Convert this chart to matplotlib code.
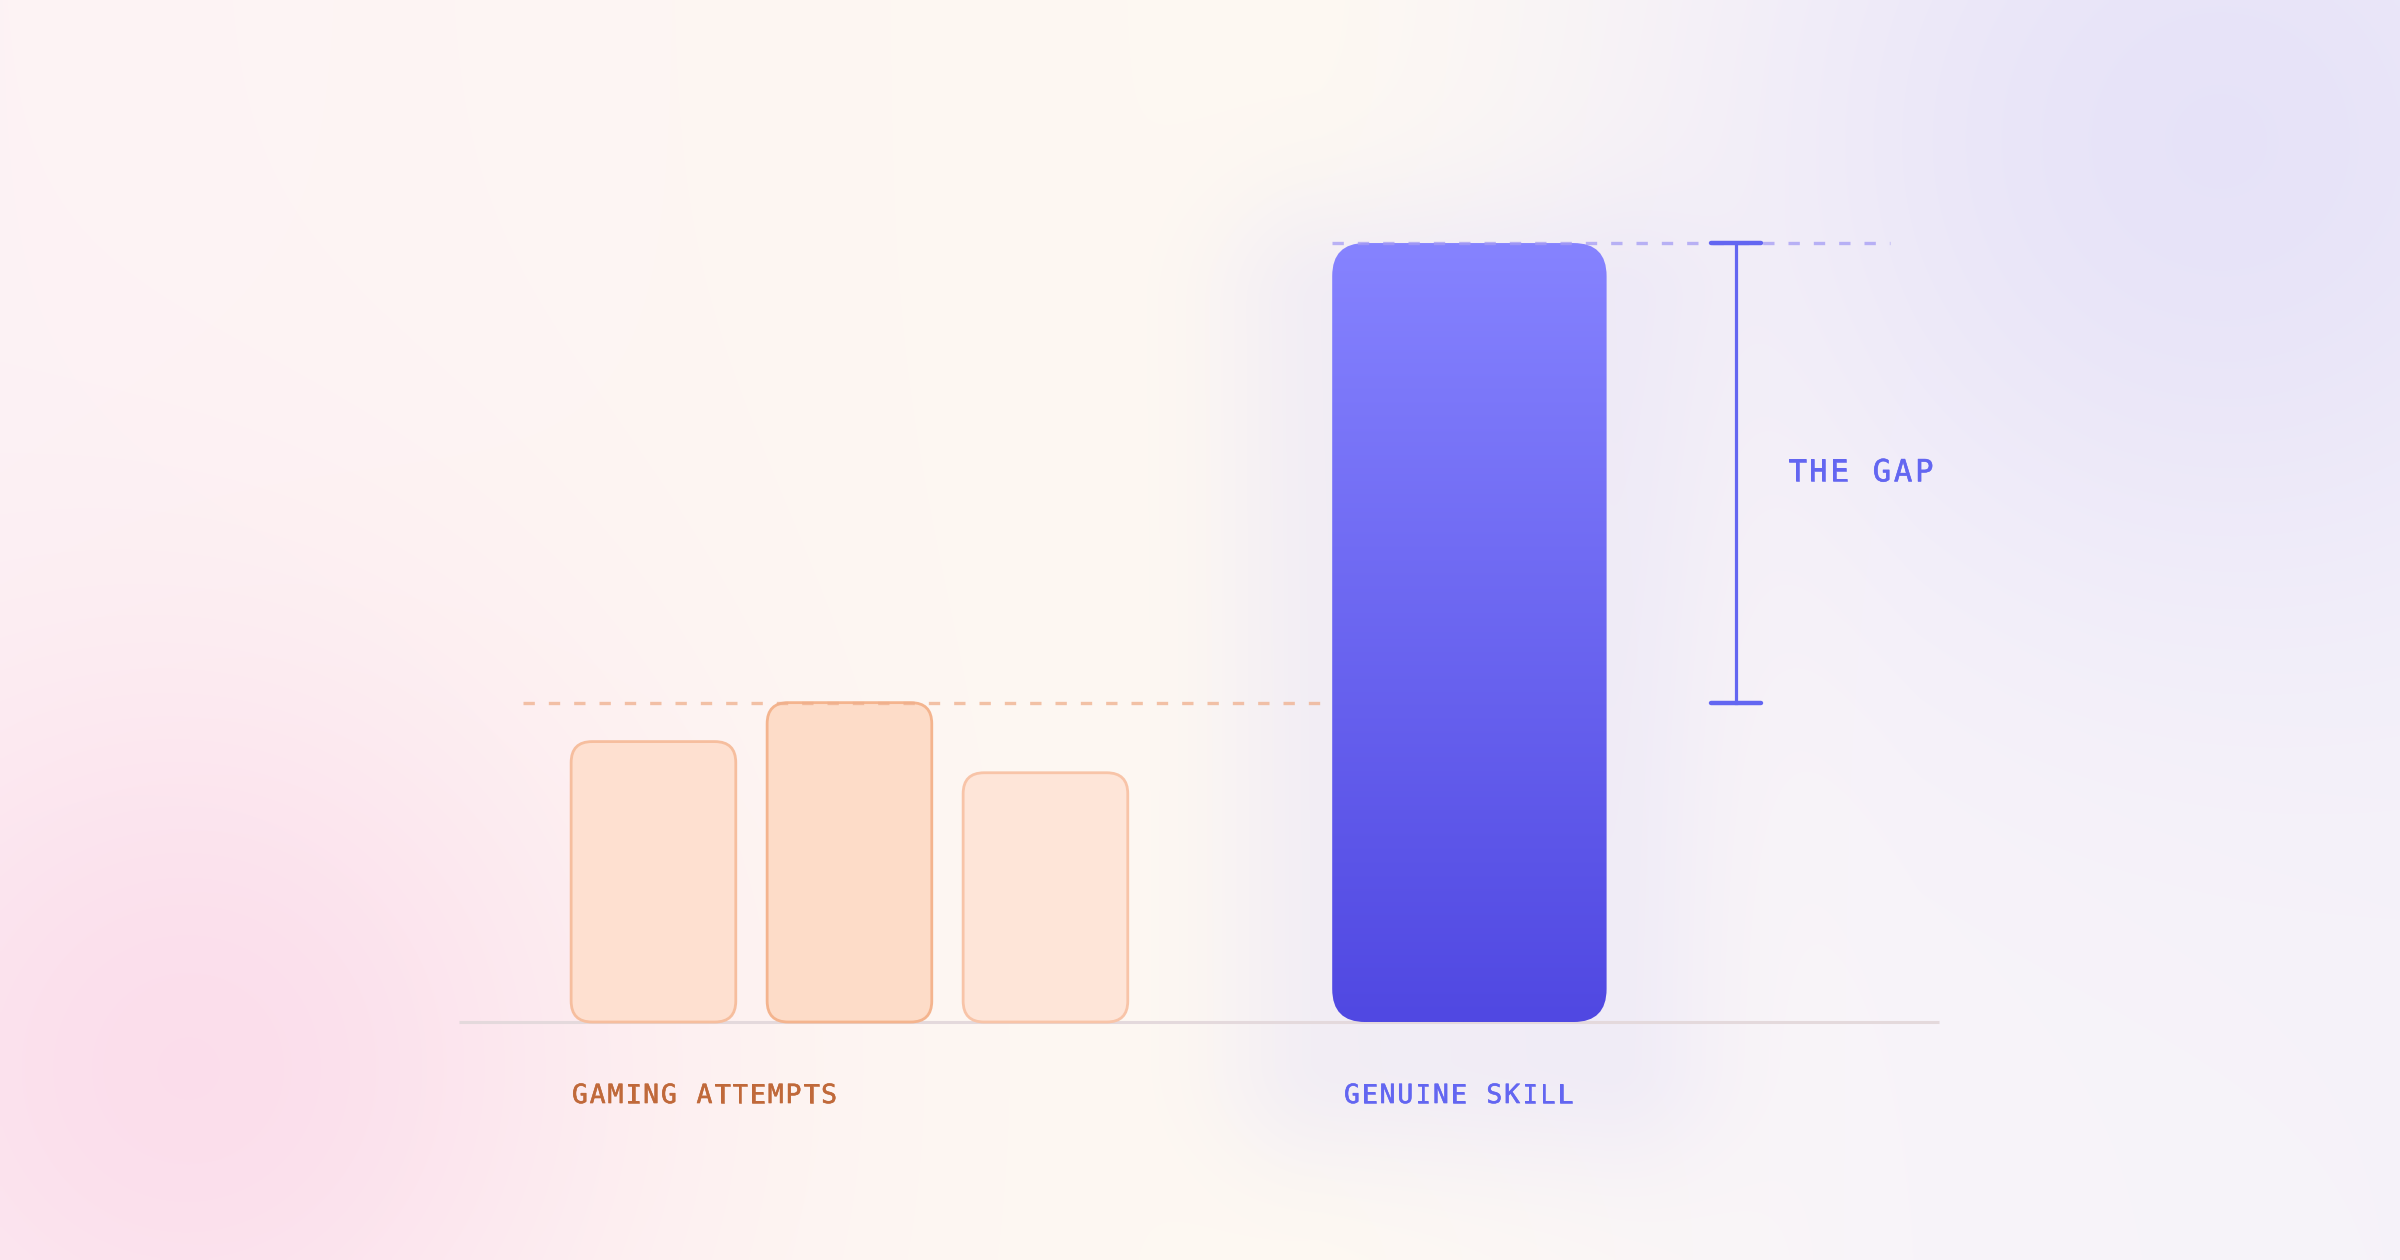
import matplotlib
matplotlib.use("Agg")
import matplotlib.pyplot as plt
import numpy as np
from matplotlib.patches import FancyBboxPatch
import matplotlib.patheffects as pe

# data
gaming_labels = ["attempt 1", "attempt 2", "attempt 3"]
gaming_values = [36, 41, 32]
skill_value = 100
group_labels = ["GAMING ATTEMPTS", "GENUINE SKILL"]
gap_label = "THE GAP"

# layout
W, H, DPI = 24, 12.6, 100
xlim = (-3.334, 8.911)
ylim = (-30.55, 131.2)
gaming_x = [0, 1, 2]
gaming_w = 0.84
skill_x = 4.163
skill_w = 1.40
gap_x = 5.523

gaming_fill = ["#FEE0D0", "#FDDCC8", "#FEE5D8"]
gaming_edge = ["#F6BE9E", "#F4B48E", "#F8C4A8"]
orange_txt = "#C0693A"
purple = "#6366F1"

fig = plt.figure(figsize=(W, H), dpi=DPI)
ax = fig.add_axes([0, 0, 1, 1])
ax.set_xlim(*xlim)
ax.set_ylim(*ylim)
ax.axis("off")

px_x = W * DPI / (xlim[1] - xlim[0])   # pixels per x unit
px_y = H * DPI / (ylim[1] - ylim[0])   # pixels per y unit
aspect = px_x / px_y

# background: soft pastel gradient with two colour blobs
nx, ny = 600, 315
gx = np.linspace(0, W * DPI, nx)
gy = np.linspace(0, H * DPI, ny)  # from top
X, Y = np.meshgrid(gx, gy)
t = X / (W * DPI)
stops = [0.0, 0.28, 0.55, 0.8, 1.0]
cols = np.array([[253, 243, 245], [254, 246, 243], [254, 249, 242],
                 [248, 244, 250], [246, 243, 250]]) / 255
bg = np.stack([np.interp(t, stops, cols[:, i]) for i in range(3)], axis=-1)

def blob(img, cx, cy, r, col, k):
    a = k * np.exp(-((X - cx) ** 2 + (Y - cy) ** 2) / r ** 2)[..., None]
    return img * (1 - a) + np.array(col) / 255 * a

bg = blob(bg, 190, 1070, 420, (251, 218, 234), 0.85)
bg = blob(bg, 2220, 140, 480, (229, 225, 248), 0.9)

# halo around the skill bar
bx0 = (skill_x - skill_w / 2 - xlim[0]) * px_x
bx1 = (skill_x + skill_w / 2 - xlim[0]) * px_x
by0 = (ylim[1] - skill_value) * px_y + 60
by1 = (ylim[1] - 0) * px_y + 40
dx = np.maximum(np.maximum(bx0 - X, X - bx1), 0)
dy = np.maximum(np.maximum(by0 - Y, Y - by1), 0)
d = np.hypot(dx, dy)
ha = (0.42 * np.exp(-(d / 115) ** 2))[..., None]
bg = bg * (1 - ha) + np.array([226, 222, 248]) / 255 * ha

ax.imshow(bg, extent=(xlim[0], xlim[1], ylim[0], ylim[1]), aspect="auto",
          interpolation="bilinear", zorder=0)

# baseline
ax.plot([-0.992, 6.559], [0, 0], color="#E4D9DC", lw=2.2, zorder=2,
        solid_capstyle="butt")

# gaming bars
r_small = 21 / px_x
for x, v, fc, ec in zip(gaming_x, gaming_values, gaming_fill, gaming_edge):
    p = FancyBboxPatch((x - gaming_w / 2, 0), gaming_w, v,
                       boxstyle=f"round,pad=0,rounding_size={r_small}",
                       mutation_aspect=aspect, facecolor=fc, edgecolor=ec,
                       lw=2.0, zorder=4)
    ax.add_patch(p)

# skill bar with vertical gradient
r_big = 33 / px_x
sk = FancyBboxPatch((skill_x - skill_w / 2, 0), skill_w, skill_value,
                    boxstyle=f"round,pad=0,rounding_size={r_big}",
                    mutation_aspect=aspect, facecolor="none", edgecolor="none",
                    zorder=4)
ax.add_patch(sk)
top_c = np.array([134, 131, 255]) / 255
bot_c = np.array([80, 72, 226]) / 255
s = np.linspace(0, 1, 256)[:, None, None]
grad = top_c * (1 - s) + bot_c * s
grad = np.repeat(grad, 2, axis=1)
im = ax.imshow(grad, extent=(skill_x - skill_w / 2, skill_x + skill_w / 2, 0, skill_value),
               aspect="auto", interpolation="bilinear", zorder=5)
im.set_clip_path(sk)

# reference lines
top_gaming = max(gaming_values)
ax.plot([-0.666, skill_x - skill_w / 2], [top_gaming, top_gaming], color="#EFAF8C",
        alpha=0.75, lw=2.4, dashes=(3.4, 4.2), zorder=6)
ax.plot([skill_x - skill_w / 2, 6.309], [skill_value, skill_value], color="#A59CF4",
        alpha=0.75, lw=2.4, dashes=(3.4, 4.2), zorder=6)

# gap marker
cap = 25 / px_x
ax.plot([gap_x, gap_x], [top_gaming, skill_value], color=purple, lw=2.3, zorder=7)
for yv in (top_gaming, skill_value):
    ax.plot([gap_x - cap, gap_x + cap], [yv, yv], color=purple, lw=3.2,
            solid_capstyle="round", zorder=7)


def spaced_text(x0, y0, txt, color, size, advance_px):
    # monospace text with wide letter spacing
    for i, ch in enumerate(txt):
        ax.text(x0 + i * advance_px / px_x, y0, ch, color=color, fontsize=size,
                family="DejaVu Sans Mono", va="center", ha="left", zorder=8,
                path_effects=[pe.withStroke(linewidth=0.4, foreground=color)])


spaced_text(5.788, (top_gaming + skill_value) / 2, gap_label, purple, 22, 21.2)
spaced_text(-0.416, -9.5, group_labels[0], orange_txt, 19, 17.8)
spaced_text(3.523, -9.5, group_labels[1], purple, 19, 17.8)

fig.savefig("out.png", dpi=DPI)
